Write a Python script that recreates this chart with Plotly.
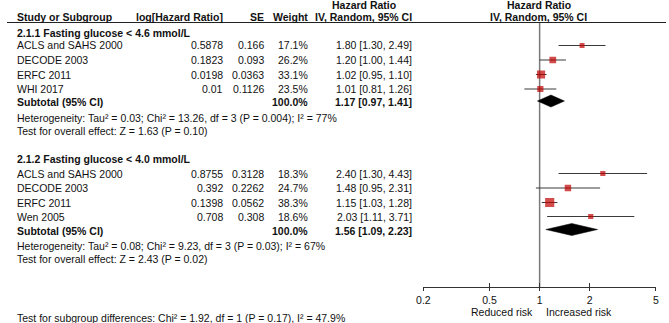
import math
import plotly.graph_objects as go

# ---------------- data ----------------
group_titles = ["2.1.1 Fasting glucose < 4.6 mmol/L", "2.1.2 Fasting glucose < 4.0 mmol/L"]

g1_studies = ["ACLS and SAHS 2000", "DECODE 2003", "ERFC 2011", "WHI 2017"]
g1_loghr = [0.5878, 0.1823, 0.0198, 0.01]
g1_se = [0.166, 0.093, 0.0363, 0.1126]
g1_weight = [17.1, 26.2, 33.1, 23.5]
g1_hr = [1.80, 1.20, 1.02, 1.01]
g1_lo = [1.30, 1.00, 0.95, 0.81]
g1_hi = [2.49, 1.44, 1.10, 1.26]
g1_pooled = [1.17, 0.97, 1.41]
g1_total_weight = 100.0
g1_het = "Heterogeneity: Tau² = 0.03; Chi² = 13.26, df = 3 (P = 0.004); I² = 77%"
g1_overall = "Test for overall effect: Z = 1.63 (P = 0.10)"

g2_studies = ["ACLS and SAHS 2000", "DECODE 2003", "ERFC 2011", "Wen 2005"]
g2_loghr = [0.8755, 0.392, 0.1398, 0.708]
g2_se = [0.3128, 0.2262, 0.0562, 0.308]
g2_weight = [18.3, 24.7, 38.3, 18.6]
g2_hr = [2.40, 1.48, 1.15, 2.03]
g2_lo = [1.30, 0.95, 1.03, 1.11]
g2_hi = [4.43, 2.31, 1.28, 3.71]
g2_pooled = [1.56, 1.09, 2.23]
g2_total_weight = 100.0
g2_het = "Heterogeneity: Tau² = 0.08; Chi² = 9.23, df = 3 (P = 0.03); I² = 67%"
g2_overall = "Test for overall effect: Z = 2.43 (P = 0.02)"

subgroup_test = "Test for subgroup differences: Chi² = 1.92, df = 1 (P = 0.17), I² = 47.9%"

tick_vals = [0.2, 0.5, 1, 2, 5]
tick_text = ["0.2", "0.5", "1", "2", "5"]
favours_left = "Reduced risk"
favours_right = "Increased risk"

# ---------------- layout constants (pixels) ----------------
W, H = 669, 323
X0, X1 = 422.7, 658.7        # forest axis extent
AXIS_Y = 287
HEADER_LINE_Y = 22.5
FONT = "Liberation Sans, Arial, sans-serif"
FS = 10.5
TXT = "#111111"

COL_STUDY = 8
COL_LOGHR = 221
COL_SE = 263
COL_W = 308
COL_CI = 413

groups = [
    dict(title=group_titles[0], studies=g1_studies, loghr=g1_loghr, se=g1_se, w=g1_weight,
         hr=g1_hr, lo=g1_lo, hi=g1_hi, pooled=g1_pooled, tw=g1_total_weight,
         het=g1_het, overall=g1_overall,
         title_y=32.5, rows=[45.5, 60, 74.5, 89], sub_y=102, het_y=117.5, ov_y=130.5),
    dict(title=group_titles[1], studies=g2_studies, loghr=g2_loghr, se=g2_se, w=g2_weight,
         hr=g2_hr, lo=g2_lo, hi=g2_hi, pooled=g2_pooled, tw=g2_total_weight,
         het=g2_het, overall=g2_overall,
         title_y=159.5, rows=[173.5, 188, 202.5, 216.5], sub_y=230.5, het_y=246, ov_y=259),
]

annotations = []


def txt(x, y, s, anchor="left", bold=False, size=FS):
    annotations.append(dict(
        x=x / W, y=1 - y / H, xref="paper", yref="paper", text=(f"<b>{s}</b>" if bold else s),
        showarrow=False, xanchor=anchor, yanchor="middle",
        font=dict(family=FONT, size=size, color=TXT)))


# headers
txt(COL_STUDY, 16.5, "Study or Subgroup", bold=True)
txt(COL_LOGHR, 16.5, "log[Hazard Ratio]", "right", bold=True)
txt(COL_SE, 16.5, "SE", "right", bold=True)
txt(COL_W, 16.5, "Weight", "right", bold=True)
txt(COL_CI, 16.5, "IV, Random, 95% CI", "right", bold=True)
txt(362, 4.5, "Hazard Ratio", "center", bold=True)
txt(540, 4.5, "Hazard Ratio", "center", bold=True)
txt(540, 16.5, "IV, Random, 95% CI", "center", bold=True)

fig = go.Figure()

for g in groups:
    txt(COL_STUDY, g["title_y"], g["title"], bold=True)
    for i, name in enumerate(g["studies"]):
        y = g["rows"][i]
        txt(COL_STUDY, y, name)
        txt(COL_LOGHR, y, str(g["loghr"][i]), "right")
        txt(COL_SE, y, str(g["se"][i]), "right")
        txt(COL_W, y, f"{g['w'][i]:.1f}%", "right")
        txt(COL_CI, y, f"{g['hr'][i]:.2f} [{g['lo'][i]:.2f}, {g['hi'][i]:.2f}]", "right")
    txt(COL_STUDY, g["sub_y"], "Subtotal (95% CI)", bold=True)
    txt(COL_W, g["sub_y"], f"{g['tw']:.1f}%", "right", bold=True)
    p = g["pooled"]
    txt(COL_CI, g["sub_y"], f"{p[0]:.2f} [{p[1]:.2f}, {p[2]:.2f}]", "right", bold=True)
    txt(COL_STUDY, g["het_y"], g["het"])
    txt(COL_STUDY, g["ov_y"], g["overall"])

    # CI lines
    xs, ys = [], []
    for i in range(len(g["studies"])):
        xs += [g["lo"][i], g["hi"][i], None]
        ys += [g["rows"][i], g["rows"][i], None]
    fig.add_trace(go.Scatter(x=xs, y=ys, mode="lines", line=dict(color="#3a3a3a", width=1),
                             hoverinfo="skip"))
    # squares
    fig.add_trace(go.Scatter(x=g["hr"], y=g["rows"], mode="markers",
                             marker=dict(symbol="square", color="#c00000",
                                         size=[1.5 + w * 0.2 for w in g["w"]],
                                         line=dict(width=0))))
    # diamond
    c = g["sub_y"] - 1
    fig.add_trace(go.Scatter(x=[p[1], p[0], p[2], p[0], p[1]], y=[c, c - 6, c, c + 6, c],
                             mode="lines", fill="toself", fillcolor="black",
                             line=dict(color="black", width=0.5), hoverinfo="skip"))

txt(COL_STUDY, 318, subgroup_test)
txt(536, 312, favours_left, "right")
txt(545, 312, favours_right, "left")

# invisible trace on overlay axis so it is drawn
fig.add_trace(go.Scatter(x=[1], y=[-50], xaxis="x2", yaxis="y", mode="markers",
                         marker=dict(opacity=0), hoverinfo="skip"))

logr = [math.log10(tick_vals[0]), math.log10(tick_vals[-1])]
fig.update_layout(
    width=W, height=H, autosize=False,
    margin=dict(l=0, r=0, t=0, b=0),
    paper_bgcolor="white", plot_bgcolor="rgba(0,0,0,0)",
    showlegend=False,
    xaxis=dict(type="log", range=logr, domain=[X0 / W, X1 / W], anchor="free",
               position=1 - AXIS_Y / H, showline=True, linecolor="#333", linewidth=1,
               ticks="outside", ticklen=3, tickcolor="#333", tickwidth=1,
               tickvals=tick_vals, ticktext=tick_text, showgrid=False, zeroline=False,
               tickfont=dict(family=FONT, size=FS, color=TXT), fixedrange=True),
    xaxis2=dict(type="log", range=logr, domain=[X0 / W, X1 / W], anchor="free",
                position=1 - AXIS_Y / H, overlaying="x", ticks="inside", ticklen=4,
                tickcolor="#333", tickwidth=1, tickvals=tick_vals, showticklabels=False,
                showline=False, showgrid=False, zeroline=False, fixedrange=True),
    yaxis=dict(range=[H, 0], domain=[0, 1], visible=False, fixedrange=True),
    annotations=annotations,
    shapes=[
        dict(type="line", xref="paper", yref="y", x0=0, x1=1, y0=HEADER_LINE_Y,
             y1=HEADER_LINE_Y, line=dict(color="#222", width=1)),
        dict(type="line", xref="x", yref="y", x0=1, x1=1, y0=HEADER_LINE_Y, y1=AXIS_Y,
             line=dict(color="#7a7a7a", width=1.5), layer="below"),
    ],
)

fig.write_html("out.html", config={"displayModeBar": False},
               post_script="document.body.style.margin='0';document.body.style.overflow='hidden';")
